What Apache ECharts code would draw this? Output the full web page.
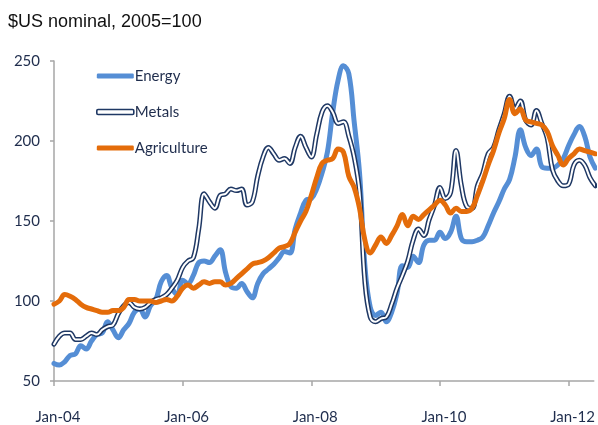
<!DOCTYPE html>
<html>
<head>
<meta charset="utf-8">
<script src="https://cdn.jsdelivr.net/npm/echarts@6/dist/echarts.min.js"></script>
<style>
html,body{margin:0;padding:0;background:#fff;}
#chart{width:598px;height:425px;}
</style>
</head>
<body>
<div id="chart"></div>
<script>
// Monthly series starting Jan-04 (index 0 = Jan-04), index 101 = Jun-12
var tickLabels = ['Jan-04', 'Jan-06', 'Jan-08', 'Jan-10', 'Jan-12'];
var yTicks = [50, 100, 150, 200, 250];

var energy = [
  61, 60, 62, 66, 67, 72, 70, 75, 79, 80, 87, 82,
  77, 82, 86, 93, 95, 90, 97, 101, 112, 116, 108, 104,
  113, 111, 116, 124, 125, 124, 128, 132, 118, 109, 108, 111,
  106, 102, 111, 117, 120, 123, 127, 131, 130, 145, 155, 163,
  164, 170, 180, 193, 218, 238, 247, 242, 212, 180, 122, 96,
  91, 93, 87, 93, 105, 122, 121, 128, 124, 135, 138, 138,
  143, 139, 143, 153, 139, 137, 137, 138, 140, 147, 155, 162,
  170, 176, 190, 207, 196, 191, 195, 184, 183, 183, 185, 189,
  197, 204, 209, 203, 190, 183
];

var metals = [
  73, 78, 80, 80, 76, 76, 78, 80, 79, 82, 84, 85,
  92, 97, 99, 96, 95, 96, 99, 101, 102, 104, 108, 113,
  121, 125, 127, 145, 167, 162, 158, 166, 167, 170, 169, 170,
  160, 162, 178, 190, 196, 192, 188, 189, 186, 196, 203, 196,
  190, 204, 218, 222, 218, 211, 212, 203, 190, 168, 112, 90,
  87, 89, 90, 98, 108, 116, 125, 138, 145, 141, 151, 160,
  171, 164, 168, 194, 172, 159, 158, 172, 180, 192, 196, 207,
  217, 228, 220, 225, 213, 210, 219, 211, 202, 182, 175, 172,
  173, 185, 188, 185, 177, 172
];

var agriculture = [
  98, 100, 104, 103, 101, 98, 96, 95, 94, 93, 93, 94,
  94, 96, 101, 101, 100, 100, 100, 99, 100, 101, 100, 103,
  108, 110, 108, 110, 112, 111, 112, 112, 110, 111, 114, 117,
  120, 123, 124, 125, 127, 130, 133, 134, 136, 143, 150, 156,
  166, 177, 186, 188, 189, 195, 193, 178, 171, 158, 138, 130,
  135, 140, 136, 141, 147, 154, 147, 153, 151, 154, 157, 160,
  163, 160, 155, 158, 156, 156, 158, 166, 175, 185, 194, 205,
  214, 226, 217, 220, 213, 212, 211, 210, 206, 197, 191, 185,
  189, 192, 195, 194, 193, 192
];

function pairs(arr) { return arr.map(function (v, i) { return [i, v]; }); }

var textColor = '#1F2D4D';
var axisColor = '#A6A6A6';
var font = 'Lato, "Noto Sans", sans-serif';

var chart = echarts.init(document.getElementById('chart'), null, { renderer: 'canvas' });
chart.setOption({
  animation: false,
  backgroundColor: '#ffffff',
  title: {
    text: '$US nominal, 2005=100',
    left: 3,
    top: 8,
    textStyle: {
      fontFamily: '"Liberation Sans", Arial, sans-serif',
      fontSize: 18,
      fontWeight: 'normal',
      color: '#111111'
    }
  },
  grid: { left: 54, right: 0, top: 61, bottom: 43, containLabel: false },
  legend: {
    orient: 'vertical',
    left: 96,
    top: 67,
    padding: 0,
    itemWidth: 37,
    itemHeight: 5,
    itemGap: 18,
    textStyle: { fontFamily: font, fontSize: 15, color: textColor, lineHeight: 18, padding: [0, 0, 0, -4] },
    data: [
      { name: 'Energy', icon: 'roundRect', itemStyle: { color: '#558ED5', borderWidth: 0 } },
      { name: 'Metals', icon: 'roundRect', itemStyle: { color: '#ffffff', borderColor: '#1F3864', borderWidth: 1.6 } },
      { name: 'Agriculture', icon: 'roundRect', itemStyle: { color: '#E46C0A', borderWidth: 0 } }
    ]
  },
  xAxis: {
    type: 'value',
    min: 0,
    max: 100.7,
    interval: 24,
    splitLine: { show: false },
    axisLine: { show: true, lineStyle: { color: axisColor, width: 1.5 } },
    axisTick: { show: true, length: 5, lineStyle: { color: axisColor, width: 1.5 } },
    axisLabel: {
      margin: 29,
      fontFamily: font,
      fontSize: 15,
      color: textColor,
      padding: [0, 0, 0, 8],
      formatter: function (v) { var k = Math.round(v / 24); return tickLabels[k] || ''; }
    }
  },
  yAxis: {
    type: 'value',
    min: 50,
    max: 250,
    interval: 50,
    splitLine: { show: false },
    axisLine: { show: true, lineStyle: { color: axisColor, width: 1.5 } },
    axisTick: { show: true, length: 4, lineStyle: { color: axisColor, width: 1.5 } },
    axisLabel: {
      margin: 14,
      fontFamily: font,
      fontSize: 15,
      color: textColor,
      formatter: function (v) { return yTicks.indexOf(v) >= 0 ? String(v) : ''; }
    }
  },
  series: [
    {
      name: 'Energy', type: 'line', data: pairs(energy), showSymbol: false, symbol: 'none',
      smooth: 0.4, clip: true,
      lineStyle: { color: '#558ED5', width: 5, cap: 'round', join: 'round' },
      itemStyle: { color: '#558ED5' }
    },
    {
      name: 'Metals', type: 'line', data: pairs(metals), showSymbol: false, symbol: 'none',
      smooth: 0.4, clip: true,
      lineStyle: { color: '#1F3864', width: 5, cap: 'round', join: 'round' },
      itemStyle: { color: '#1F3864' }
    },
    {
      name: 'MetalsInner', type: 'line', data: pairs(metals), showSymbol: false, symbol: 'none',
      smooth: 0.4, clip: true,
      lineStyle: { color: '#ffffff', width: 2, cap: 'round', join: 'round' },
      itemStyle: { color: '#ffffff' }
    },
    {
      name: 'Agriculture', type: 'line', data: pairs(agriculture), showSymbol: false, symbol: 'none',
      smooth: 0.4, clip: true,
      lineStyle: { color: '#E46C0A', width: 5, cap: 'round', join: 'round' },
      itemStyle: { color: '#E46C0A' }
    }
  ]
});
</script>
</body>
</html>
